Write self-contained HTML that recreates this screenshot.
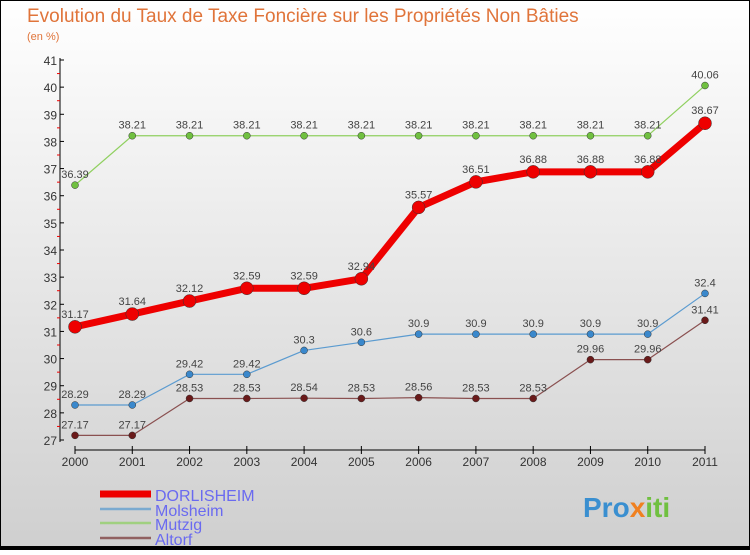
<!DOCTYPE html>
<html><head><meta charset="utf-8"><style>
body{margin:0;width:750px;height:550px;overflow:hidden;font-family:"Liberation Sans",sans-serif}
</style></head><body>
<svg width="750" height="550" xmlns="http://www.w3.org/2000/svg" id="svg">
<defs><linearGradient id="bg" x1="0" y1="0" x2="0" y2="1"><stop offset="0" stop-color="#ffffff"/><stop offset="1" stop-color="#cfcfcf"/></linearGradient></defs>
<rect x="0.5" y="0.5" width="749" height="549" fill="url(#bg)" stroke="#000" stroke-width="1"/>
<rect x="0" y="546" width="750" height="4" fill="#000"/>
<text x="27" y="22" font-size="19" fill="#e0743a">Evolution du Taux de Taxe Foncière sur les Propriétés Non Bâties</text>
<text x="27" y="40" font-size="11" fill="#e0743a">(en %)</text>
<g id="axes"></g><g id="series"></g><g id="legend"></g>
<text x="583" y="517" font-size="28" font-weight="bold" fill="#3a8fd0">Pro<tspan fill="#f08020">x</tspan><tspan fill="#70c040">iti</tspan></text>
</svg>
<script>
const years=[2000,2001,2002,2003,2004,2005,2006,2007,2008,2009,2010,2011];
const yTicks=[27,28,29,30,31,32,33,34,35,36,37,38,39,40,41];
const dorlisheim=[31.17,31.64,32.12,32.59,32.59,32.94,35.57,36.51,36.88,36.88,36.88,38.67];
const molsheim=[28.29,28.29,29.42,29.42,30.3,30.6,30.9,30.9,30.9,30.9,30.9,32.4];
const mutzig=[36.39,38.21,38.21,38.21,38.21,38.21,38.21,38.21,38.21,38.21,38.21,40.06];
const altorf=[27.17,27.17,28.53,28.53,28.54,28.53,28.56,28.53,28.53,29.96,29.96,31.41];
const NS="http://www.w3.org/2000/svg";
const x=i=>75+i*(630/11);
const y=v=>440-(v-27)*(380/14);
function mk(t,a,p){const e=document.createElementNS(NS,t);for(const k in a)e.setAttribute(k,a[k]);if(a.text!==undefined){e.textContent=a.text;e.removeAttribute('text');}p.appendChild(e);return e;}
const ax=document.getElementById('axes');
let l=mk('line',{x1:60,y1:58,x2:60,y2:442,stroke:'#000'},ax);


l=mk('line',{x1:75,y1:450,x2:705,y2:450,stroke:'#000'},ax);


yTicks.forEach(v=>{
 mk('line',{x1:60,y1:y(v),x2:64,y2:y(v),stroke:'#000'},ax);
 if(v<41) mk('line',{x1:57,y1:y(v+0.5),x2:60,y2:y(v+0.5),stroke:'#e00'},ax);
 const t=mk('text',{x:57,y:y(v)+5,'text-anchor':'end','font-size':12,fill:'#333',text:v},ax);
 
 
});
years.forEach((yr,i)=>{
 mk('line',{x1:x(i),y1:446,x2:x(i),y2:454,stroke:'#000'},ax);
 const t=mk('text',{x:x(i),y:466,'text-anchor':'middle','font-size':12,fill:'#333',text:yr},ax);
 
 
});
const sg=document.getElementById('series');
function series(name,vals,color,w,r,dot,labelOff){
 const g=mk('g',{},sg);
 
 
 const p=mk('polyline',{points:vals.map((v,i)=>x(i)+','+y(v)).join(' '),fill:'none',stroke:color,'stroke-width':w,'stroke-linejoin':'round'},g);
 
 
 vals.forEach((v,i)=>{
  const c=mk('circle',{cx:x(i),cy:y(v),r:r,fill:dot,stroke:'#333','stroke-width':0.5},g);
  
  
  const t=mk('text',{x:x(i),y:y(v)-labelOff,'text-anchor':'middle','font-size':11,fill:'#444',text:String(v)},g);
  
  
 });
}
series('altorf',altorf,'#8a5050',1.2,3.5,'#6a1a1a',7);
series('molsheim',molsheim,'#5b9bd0',1.2,3.5,'#3a88cc',7);
series('mutzig',mutzig,'#90d060',1.2,3.5,'#70c040',7);
series('dorlisheim',dorlisheim,'#ee0000',7,6.5,'#ee0000',9);
const lg=document.getElementById('legend');
[['DORLISHEIM','#ee0000',7,494],['Molsheim','#7aaad0',2.5,509],['Mutzig','#a0d080',2.5,523],['Altorf','#906060',2.5,538]].forEach(([n,c,w,yy])=>{
 const g=mk('g',{},lg);
 
 
 mk('line',{x1:100,y1:yy,x2:151,y2:yy,stroke:c,'stroke-width':w},g);
 mk('text',{x:155,y:yy+7,'font-size':16,fill:'#6a6af0',text:n},g);
});
</script>
</body></html>
